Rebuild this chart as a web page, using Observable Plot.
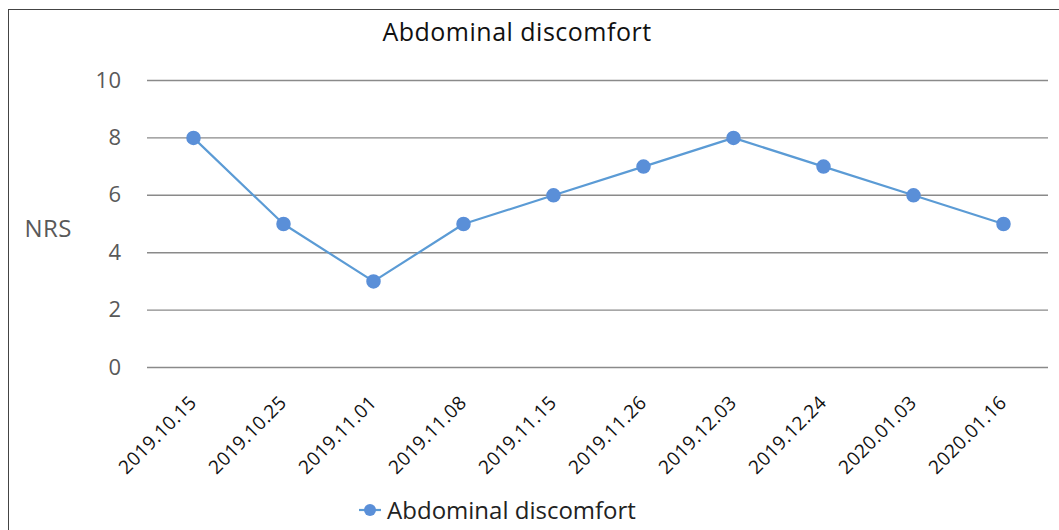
<!DOCTYPE html>
<html>
<head>
<meta charset="utf-8">
<script src="https://cdn.jsdelivr.net/npm/d3@7"></script>
<script src="https://cdn.jsdelivr.net/npm/@observablehq/plot@0.6"></script>
<style>
  html, body { margin: 0; padding: 0; background: #fff; }
  #wrap { position: relative; width: 1059px; height: 530px; overflow: hidden; font-family: "Open Sans", "Noto Sans", sans-serif; }
  #frame { position: absolute; left: 8px; top: 9px; width: 1070px; height: 540px; border: 1px solid #444; box-sizing: border-box; }
  #title { position: absolute; top: 14px; left: 0; width: 1034px; text-align: center; font-size: 25px; letter-spacing: 0.5px; color: #111; }
  #chart { position: absolute; left: 0; top: 0; }
  #legend { position: absolute; top: 493px; left: 0; width: 994px; display: flex; justify-content: center; align-items: center; font-size: 24px; color: #222; }
  #legend svg { margin-right: 5px; }
  #chart svg text { letter-spacing: 0.4px; }
</style>
</head>
<body>
<div id="wrap">
  <div id="frame"></div>
  <div id="title">Abdominal discomfort</div>
  <div id="chart"></div>
  <div id="legend"></div>
</div>
<script>
const dates = ["2019.10.15","2019.10.25","2019.11.01","2019.11.08","2019.11.15","2019.11.26","2019.12.03","2019.12.24","2020.01.03","2020.01.16"];
const values = [8, 5, 3, 5, 6, 7, 8, 7, 6, 5];
const seriesName = "Abdominal discomfort";
const yTicks = [0, 2, 4, 6, 8, 10];

const data = dates.map((d, i) => ({date: d, value: values[i]}));
const lineColor = "#5b9bd5";
const dotColor = "#5a8fd8";

const chart = Plot.plot({
  width: 1059,
  height: 530,
  marginLeft: 147,
  marginRight: 11,
  marginTop: 80,
  marginBottom: 163,
  style: {fontFamily: '"Open Sans", "Noto Sans", sans-serif', background: "transparent"},
  x: {type: "point", domain: dates, padding: 0.5, label: null},
  y: {domain: [0, 10], label: null},
  marks: [
    Plot.gridY(yTicks, {stroke: "#8a8a8a", strokeOpacity: 1, strokeWidth: 1.4}),
    Plot.axisY(yTicks, {tickSize: 0, tickPadding: 26, fontSize: 22, fill: "#595959", label: null}),
    Plot.axisX({tickSize: 0, tickRotate: -45, tickPadding: 32, fontSize: 19, fill: "#111", label: null}),
    Plot.text(["NRS"], {frameAnchor: "left", dx: -123, dy: 5, fontSize: 24, fill: "#595959", textAnchor: "start"}),
    Plot.line(data, {x: "date", y: "value", stroke: lineColor, strokeWidth: 2.2}),
    Plot.dot(data, {x: "date", y: "value", r: 6.5, fill: dotColor, stroke: dotColor})
  ]
});
document.getElementById("chart").appendChild(chart);

// legend
const leg = document.getElementById("legend");
const sw = d3.create("svg").attr("width", 24).attr("height", 14);
sw.append("line").attr("x1", 1).attr("x2", 23).attr("y1", 7).attr("y2", 7).attr("stroke", lineColor).attr("stroke-width", 2.2);
sw.append("circle").attr("cx", 12).attr("cy", 7).attr("r", 6).attr("fill", dotColor);
leg.appendChild(sw.node());
const t = document.createElement("span");
t.textContent = seriesName;
leg.appendChild(t);
</script>
</body>
</html>
